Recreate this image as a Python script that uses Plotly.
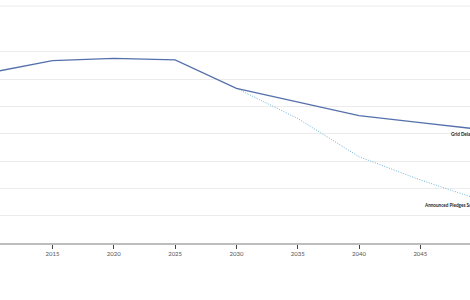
import plotly.graph_objects as go

years_grid = [2010, 2015, 2020, 2025, 2030, 2035, 2040, 2045, 2050]
grid_delay = [12.49, 13.36, 13.53, 13.41, 11.33, 10.33, 9.33, 8.82, 8.31]

years_pledges = [2030, 2035, 2040, 2045, 2050]
announced_pledges = [11.33, 9.12, 6.32, 4.62, 3.12]

x_ticks = [2015, 2020, 2025, 2030, 2035, 2040, 2045]
y_grid = [2, 4, 6, 8, 10, 12, 14]

fig = go.Figure()
fig.add_trace(go.Scatter(x=years_pledges, y=announced_pledges, mode="lines",
                         line=dict(color="#6fb3d8", width=1, dash="1px,1.5px"),
                         name="Announced Pledges Scenario", hoverinfo="skip"))
fig.add_trace(go.Scatter(x=years_grid, y=grid_delay, mode="lines",
                         line=dict(color="#5470ab", width=1.3),
                         name="Grid Delay Scenario", hoverinfo="skip"))

fig.add_annotation(text="<b>Grid Delay Scenario</b>", xref="paper", yref="paper",
                   x=0.955, y=0.46, xanchor="left", yanchor="middle", showarrow=False,
                   font=dict(size=4.6, color="#222", family="Lato"))
fig.add_annotation(text="<b>Announced Pledges Scenario</b>", xref="paper", yref="paper",
                   x=0.897, y=0.16, xanchor="left", yanchor="middle", showarrow=False,
                   font=dict(size=4.6, color="#222", family="Lato"))

fig.add_shape(type="line", xref="paper", yref="paper", x0=0, x1=1, y0=1, y1=1,
              line=dict(color="#ececec", width=1))

fig.update_layout(
    width=470, height=300,
    margin=dict(l=0, r=0, t=6, b=57),
    paper_bgcolor="white", plot_bgcolor="white",
    showlegend=False,
    xaxis=dict(range=[2010.72, 2049.05], tickvals=x_ticks, ticks="outside", ticklen=4,
               tickcolor="#444", tickwidth=1, showgrid=False, showline=True,
               linecolor="#bdbdbd", linewidth=2, zeroline=False,
               tickfont=dict(size=6, color="#555", family="Lato")),
    yaxis=dict(range=[0, 17.36], tickvals=y_grid, showticklabels=False, showgrid=True,
               gridcolor="#ececec", gridwidth=1, zeroline=False, showline=False),
)

fig.write_html("out.html")
